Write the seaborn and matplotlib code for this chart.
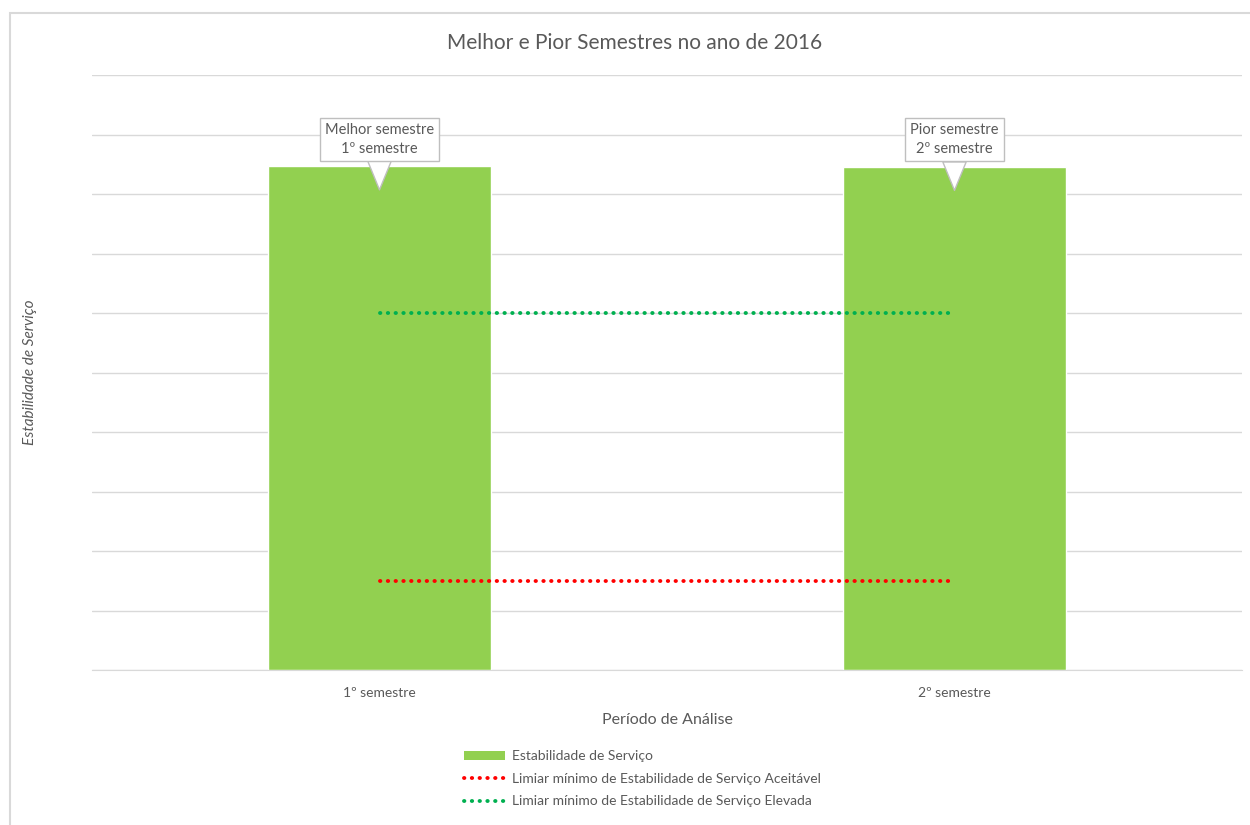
import matplotlib
matplotlib.use('Agg')
import matplotlib.pyplot as plt
import seaborn as sns
import pandas as pd
from matplotlib.patches import Patch, Rectangle
from matplotlib.lines import Line2D

periodos = ['1º semestre', '2º semestre']
estabilidade = [8.47, 8.46]
limiar_aceitavel = [1.5, 1.5]
limiar_elevada = [6.0, 6.0]
callouts = ['Melhor semestre\n1º semestre', 'Pior semestre\n2º semestre']

verde_barra = '#92D050'
vermelho = '#FF0000'
verde_linha = '#00B050'
cinza_txt = '#595959'
cinza_grid = '#D9D9D9'

sns.set_style('white')
plt.rcParams['font.family'] = ['Lato', 'DejaVu Sans']

fig = plt.figure(figsize=(12.5, 8.25), dpi=100)
ax = fig.add_axes([92 / 1250, 1 - 670 / 825, 1150 / 1250, 595 / 825])

df = pd.DataFrame({'periodo': periodos, 'valor': estabilidade})
sns.barplot(data=df, x='periodo', y='valor', color=verde_barra, saturation=1,
            width=0.388, ax=ax, zorder=2)

xs = list(range(len(periodos)))
dots = dict(linestyle=(0, (0.1, 1.9)), lw=2.8, dash_capstyle='round', zorder=3)
ax.plot(xs, limiar_aceitavel, color=vermelho, **dots)
ax.plot(xs, limiar_elevada, color=verde_linha, **dots)

for x, v, txt in zip(xs, estabilidade, callouts):
    ax.annotate(txt, xy=(x, v - 0.4), xytext=(x, v + 0.45), ha='center', va='center',
                fontsize=10.5, color=cinza_txt, zorder=5, linespacing=1.45,
                bbox=dict(boxstyle='square,pad=0.35', fc='white', ec='#BFBFBF', lw=1),
                arrowprops=dict(arrowstyle='wedge,tail_width=1.6,shrink_factor=0.5',
                                fc='white', ec='#BFBFBF', lw=1, shrinkA=0, shrinkB=0))

ax.set_ylim(0, 10)
ax.set_xlim(-0.5, 1.5)
ax.set_yticks(range(0, 11))
ax.set_yticklabels([])
ax.yaxis.grid(True, color=cinza_grid, lw=1, zorder=0)
ax.set_axisbelow(True)
for s in ['top', 'right', 'left']:
    ax.spines[s].set_visible(False)
ax.spines['bottom'].set_color(cinza_grid)
ax.tick_params(axis='both', length=0, colors=cinza_txt, labelsize=10, pad=12)

ax.set_xlabel('Período de Análise', fontsize=11.5, color=cinza_txt, labelpad=10)
ax.set_ylabel('Estabilidade de Serviço', fontsize=11, color=cinza_txt, style='italic')
ax.yaxis.set_label_coords(-55 / 1150, 0.5)
fig.text(635 / 1250, 1 - 43 / 825, 'Melhor e Pior Semestres no ano de 2016',
         ha='center', va='center', fontsize=15, color=cinza_txt)

handles = [
    Patch(facecolor=verde_barra, edgecolor='none', label='Estabilidade de Serviço'),
    Line2D([0], [0], color=vermelho, label='Limiar mínimo de Estabilidade de Serviço Aceitável', **dots),
    Line2D([0], [0], color=verde_linha, label='Limiar mínimo de Estabilidade de Serviço Elevada', **dots),
]
leg = fig.legend(handles=handles, loc='upper left', bbox_to_anchor=(451 / 1250, 1 - 738 / 825),
                 frameon=False, fontsize=10, handlelength=3.0, handleheight=0.6,
                 labelspacing=0.75, handletextpad=0.5, labelcolor=cinza_txt)

fig.patches.append(Rectangle((10 / 1250, -0.1), 1.2, 1.1 - 13.5 / 825, transform=fig.transFigure,
                             fill=False, ec=cinza_grid, lw=1.5))

fig.savefig('out.png', dpi=100)
